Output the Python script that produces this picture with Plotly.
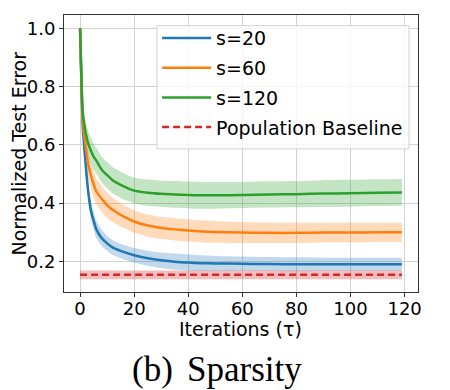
import plotly.graph_objects as go

# ---- data ----
iters = [0, 1, 2, 3, 4, 5, 6, 8, 10, 12, 15, 20, 25, 30, 35, 40, 45, 50, 60, 70, 80, 90, 100, 110, 119]

s20_mean = [1.0, 0.66, 0.54, 0.44, 0.375, 0.34, 0.31, 0.28, 0.262, 0.248, 0.236, 0.221, 0.211, 0.204, 0.199, 0.196,
            0.194, 0.193, 0.192, 0.191, 0.19, 0.19, 0.19, 0.19, 0.19]
s20_std = [0.0, 0.02, 0.025, 0.03, 0.03, 0.03, 0.03, 0.028, 0.026, 0.025, 0.025, 0.025, 0.026, 0.027, 0.028, 0.028,
           0.027, 0.026, 0.025, 0.024, 0.024, 0.023, 0.023, 0.023, 0.023]

s60_mean = [1.0, 0.68, 0.60, 0.535, 0.495, 0.465, 0.44, 0.415, 0.393, 0.377, 0.36, 0.337, 0.323, 0.315, 0.31, 0.306,
            0.303, 0.301, 0.299, 0.298, 0.298, 0.299, 0.299, 0.3, 0.3]
s60_std = [0.0, 0.03, 0.04, 0.045, 0.045, 0.045, 0.045, 0.045, 0.044, 0.042, 0.04, 0.038, 0.038, 0.038, 0.038, 0.038,
           0.038, 0.037, 0.036, 0.035, 0.035, 0.034, 0.034, 0.033, 0.033]

s120_mean = [1.0, 0.71, 0.645, 0.605, 0.58, 0.56, 0.546, 0.515, 0.496, 0.479, 0.463, 0.443, 0.436, 0.432, 0.43, 0.428,
             0.427, 0.427, 0.428, 0.43, 0.431, 0.433, 0.434, 0.436, 0.437]
s120_std = [0.0, 0.03, 0.04, 0.043, 0.045, 0.045, 0.045, 0.045, 0.045, 0.045, 0.045, 0.044, 0.045, 0.045, 0.046, 0.046,
            0.046, 0.046, 0.045, 0.045, 0.045, 0.046, 0.046, 0.046, 0.046]

baseline_x = [0, 119]
baseline_mean = [0.154, 0.154]
baseline_std = [0.015, 0.015]

series = [
    ("s=20", s20_mean, s20_std, "#1f77b4", "rgba(31,119,180,0.28)"),
    ("s=60", s60_mean, s60_std, "#ff7f0e", "rgba(255,127,14,0.28)"),
    ("s=120", s120_mean, s120_std, "#2ca02c", "rgba(44,160,44,0.28)"),
]

x_ticks = [0, 20, 40, 60, 80, 100, 120]
y_ticks = [0.2, 0.4, 0.6, 0.8, 1.0]
y_tick_labels = ["0.2", "0.4", "0.6", "0.8", "1.0"]

FONT = "DejaVu Sans"
FS = 19
TFS = 18

fig = go.Figure()

# bands
for name, m, s, c, fc in series:
    upper = [a + b for a, b in zip(m, s)]
    lower = [a - b for a, b in zip(m, s)]
    fig.add_trace(go.Scatter(x=iters, y=upper, mode="lines", line=dict(width=0, shape="spline", smoothing=0.5),
                             showlegend=False, hoverinfo="skip"))
    fig.add_trace(go.Scatter(x=iters, y=lower, mode="lines", line=dict(width=0, shape="spline", smoothing=0.5),
                             fill="tonexty", fillcolor=fc, showlegend=False, hoverinfo="skip"))

bu = [a + b for a, b in zip(baseline_mean, baseline_std)]
bl = [a - b for a, b in zip(baseline_mean, baseline_std)]
fig.add_trace(go.Scatter(x=baseline_x, y=bu, mode="lines", line=dict(width=0), showlegend=False, hoverinfo="skip"))
fig.add_trace(go.Scatter(x=baseline_x, y=bl, mode="lines", line=dict(width=0), fill="tonexty",
                         fillcolor="rgba(214,39,40,0.3)", showlegend=False, hoverinfo="skip"))

# lines
for i, (name, m, s, c, fc) in enumerate(series):
    fig.add_trace(go.Scatter(x=iters, y=m, mode="lines", name=name, legendgroup=f"g{i}",
                             line=dict(color=c, width=2.5, shape="spline", smoothing=0.5)))
fig.add_trace(go.Scatter(x=baseline_x, y=baseline_mean, mode="lines", name="Population Baseline",
                         legendgroup="g3", line=dict(color="#d62728", width=2.5, dash="7px,4px")))

axis_common = dict(
    showgrid=True, gridcolor="#d3d3d3", gridwidth=1,
    showline=True, linecolor="#333333", linewidth=1, mirror=True,
    ticks="outside", ticklen=4, tickcolor="#333333",
    tickfont=dict(family=FONT, size=TFS, color="black"),
    zeroline=False, automargin=False,
)

fig.update_xaxes(range=[-5.95, 124.95], tickvals=x_ticks, ticklabelstandoff=-4, **axis_common)
fig.update_yaxes(range=[0.095, 1.046], tickvals=y_ticks, ticktext=y_tick_labels, **axis_common)

# page body has an 8px margin, so the figure is 8px smaller and shifted
fig.update_layout(
    width=442, height=382,
    margin=dict(l=56, r=32, t=7, b=98),
    paper_bgcolor="white", plot_bgcolor="white",
    font=dict(family=FONT, size=FS, color="black"),
    legend=dict(x=0.263, y=0.985, xanchor="left", yanchor="top", traceorder="grouped", tracegroupgap=2,
                itemwidth=49, bgcolor="rgba(0,0,0,0)", borderwidth=0,
                font=dict(family=FONT, size=FS, color="black")),
    shapes=[
        dict(type="rect", xref="paper", yref="paper", x0=0.2627, x1=0.9746, y0=0.5168, y1=0.9614,
             line=dict(color="#d0d0d0", width=1), fillcolor="rgba(255,255,255,0.8)", layer="above"),
    ],
    annotations=[
        dict(text="Normalized Test Error", xref="paper", yref="paper", x=-0.1257, y=0.498, textangle=-90,
             xanchor="center", yanchor="middle", showarrow=False, borderpad=0,
             font=dict(family=FONT, size=FS, color="black")),
        dict(text="Iterations (τ)", xref="paper", yref="paper", x=0.4995, y=-0.1336,
             xanchor="center", yanchor="middle", showarrow=False, borderpad=0,
             font=dict(family=FONT, size=FS, color="black")),
        dict(text="(b)", xref="paper", yref="paper", x=0.1864, y=-0.28, xanchor="left", yanchor="middle",
             showarrow=False, font=dict(family="Liberation Serif", size=35, color="black")),
        dict(text="Sparsity", xref="paper", yref="paper", x=0.3418, y=-0.28, xanchor="left", yanchor="middle",
             showarrow=False, font=dict(family="Liberation Serif", size=35, color="black")),
    ],
)

fig.write_html("out.html")
